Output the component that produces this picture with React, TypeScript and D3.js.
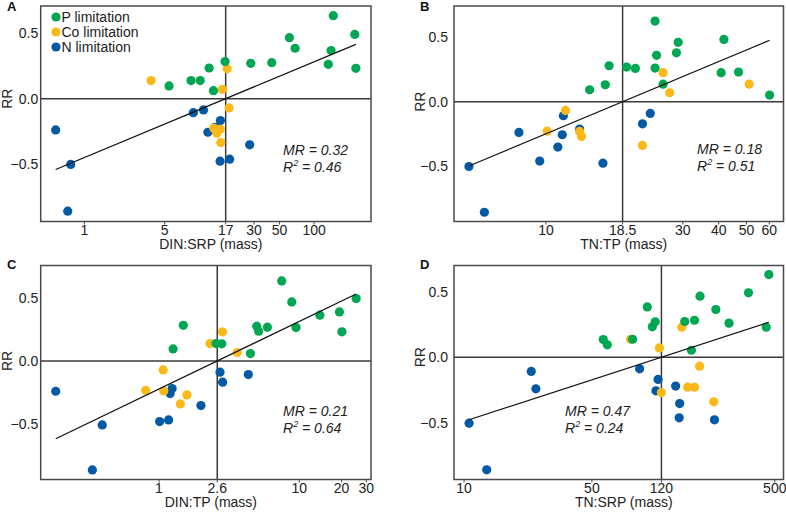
import React from "react";
import * as d3 from "d3";

// ---------- data ----------
const groupNames = ["P limitation", "Co limitation", "N limitation"];

// Panel A: DIN:SRP
const A_P = [[147, 0.634], [226, 0.491], [61, 0.466], [68.4, 0.385], [140.6, 0.367], [133, 0.262], [231, 0.232], [16.8, 0.283], [28.1, 0.27], [42.8, 0.275], [12.2, 0.234], [8.49, 0.138], [10.2, 0.138], [5.46, 0.097], [13.3, 0.061]];
const A_Co = [[3.81, 0.138], [17.5, 0.229], [15.9, 0.071], [18.2, -0.071], [13.4, -0.226], [14.2, -0.264], [15.2, -0.234], [15.4, -0.336]];
const A_N = [[0.563, -0.239], [0.761, -0.503], [0.717, -0.86], [8.89, -0.107], [10.9, -0.086], [15.3, -0.168], [11.9, -0.257], [13.7, -0.219], [27.5, -0.353], [15.2, -0.478], [18.4, -0.463]];

// Panel B: TN:TP
const B_P = [[24.0, 0.628], [41.7, 0.485], [28.9, 0.462], [28.5, 0.381], [24.3, 0.361], [24.0, 0.262], [19.1, 0.27], [20.5, 0.259], [16.6, 0.28], [16.1, 0.132], [14.2, 0.093], [40.8, 0.226], [46.9, 0.231], [25.6, 0.137], [60.2, 0.052]];
const B_Co = [[25.6, 0.226], [51.1, 0.137], [27.0, 0.07], [11.7, -0.068], [10.1, -0.229], [13.1, -0.231], [13.3, -0.27], [21.7, -0.34]];
const B_N = [[5.39, -0.504], [6.1, -0.86], [8.05, -0.239], [11.5, -0.109], [11.4, -0.257], [11.0, -0.353], [9.51, -0.462], [15.8, -0.478], [21.7, -0.172], [23.1, -0.091], [13.1, -0.213]];

// Panel C: DIN:TP
const C_P = [[7.49, 0.633], [8.83, 0.467], [25.4, 0.493], [19.3, 0.388], [14.0, 0.362], [9.47, 0.264], [20.1, 0.23], [4.97, 0.275], [5.13, 0.235], [5.92, 0.267], [1.49, 0.282], [1.26, 0.095], [2.55, 0.137], [2.8, 0.135], [4.48, 0.058]];
const C_Co = [[2.83, 0.23], [2.31, 0.137], [3.61, 0.066], [1.07, -0.071], [0.804, -0.232], [1.08, -0.237], [1.58, -0.269], [1.42, -0.34]];
const C_N = [[0.1836, -0.24], [0.394, -0.506], [0.335, -0.862], [2.72, -0.089], [2.84, -0.168], [4.33, -0.108], [1.24, -0.219], [1.2, -0.258], [1.99, -0.353], [1.01, -0.48], [1.17, -0.467]];

// Panel D: TN:SRP
const D_P = [[464, 0.631], [359, 0.491], [195, 0.466], [100.4, 0.384], [238, 0.364], [281, 0.26], [449, 0.229], [161, 0.272], [182, 0.282], [111, 0.27], [107, 0.232], [57.7, 0.135], [60.7, 0.094], [83.5, 0.137], [175, 0.053]];
const D_Co = [[155, 0.229], [81.5, 0.137], [117, 0.071], [194, -0.069], [120, -0.27], [167, -0.229], [182, -0.229], [232, -0.341]];
const D_N = [[10.65, -0.504], [13.3, -0.86], [23.3, -0.109], [24.7, -0.242], [91.2, -0.089], [115, -0.17], [112, -0.257], [143.5, -0.221], [151, -0.354], [150, -0.463], [234, -0.478]];

const panelLetters = ["A", "B", "C", "D"];
const xTitles = ["DIN:SRP (mass)", "TN:TP (mass)", "DIN:TP (mass)", "TN:SRP (mass)"];
const xTickValues = [[1, 5, 17, 30, 50, 100], [10, 18.5, 30, 40, 50, 60], [1, 2.6, 10, 20, 30], [10, 50, 120, 500]];
const yTickValues = [-0.5, 0.0, 0.5];
const thresholds = [17, 18.5, 2.6, 120];
const slopes = [0.366, 0.933, 0.535, 0.454];
const mrValues = ["0.32", "0.18", "0.21", "0.47"];
const r2Values = ["0.46", "0.51", "0.64", "0.24"];
const xDomains = [[0.417, 313], [4.78, 67.3], [0.1435, 32.4], [8.81, 558]];
const yDomains = [[-0.939, 0.708], [-0.932, 0.745], [-0.938, 0.755], [-0.934, 0.7]];

const panelData = [
  [A_P, A_Co, A_N],
  [B_P, B_Co, B_N],
  [C_P, C_Co, C_N],
  [D_P, D_Co, D_N],
];

// ---------- styles / layout ----------
const colors = ["#00a651", "#fbb917", "#0359a3"];
const FONT = "'Liberation Sans', Arial, Helvetica, sans-serif";
const frames = [
  { left: 40.7, right: 371, top: 6, bottom: 221.5, tickGap: 2.5, letterX: 7, letterY: 11, rrX: 11.5, statX: 283, statY: 155 },
  { left: 454, right: 783.5, top: 6, bottom: 221.5, tickGap: 6, letterX: 420, letterY: 11, rrX: 424.5, statX: 697, statY: 153.5 },
  { left: 40.7, right: 371, top: 265.5, bottom: 479.5, tickGap: 2.5, letterX: 7, letterY: 269, rrX: 11.5, statX: 283, statY: 415.5 },
  { left: 454, right: 783.5, top: 265.5, bottom: 479.5, tickGap: 6, letterX: 420, letterY: 269, rrX: 424.5, statX: 565, statY: 415.5 },
];
const drawOrder = [2, 1, 0];

function fmtTick(v: number) {
  return d3.format(".1f")(v);
}

function Panel({ i }: { i: number }) {
  const f = frames[i];
  const x = d3.scaleLog().domain(xDomains[i]).range([f.left, f.right]);
  const y = d3.scaleLinear().domain(yDomains[i]).range([f.bottom, f.top]);
  const all = panelData[i].flat();
  const xExt = d3.extent(all, (d) => d[0]) as [number, number];
  const lt = Math.log10(thresholds[i]);
  const fit = (v: number) => slopes[i] * (Math.log10(v) - lt);
  const line = d3
    .line<number>()
    .x((v) => x(v))
    .y((v) => y(fit(v)));
  const xMid = (f.left + f.right) / 2 + 5;
  return (
    <g>
      {/* crosshair */}
      <line x1={x(thresholds[i])} x2={x(thresholds[i])} y1={f.top} y2={f.bottom} stroke="#3a3a3a" strokeWidth={1.5} />
      <line x1={f.left} x2={f.right} y1={y(0)} y2={y(0)} stroke="#3a3a3a" strokeWidth={1.5} />
      {/* points */}
      {drawOrder.map((g) =>
        panelData[i][g].map((d, k) => (
          <circle key={`${g}-${k}`} cx={x(d[0])} cy={y(d[1])} r={4.6} fill={colors[g]} />
        ))
      )}
      {/* regression */}
      <path d={line(xExt) || ""} fill="none" stroke="#111" strokeWidth={1.2} />
      {/* frame */}
      <rect x={f.left} y={f.top} width={f.right - f.left} height={f.bottom - f.top} fill="none" stroke="#4a4a4a" strokeWidth={1.5} />
      {/* x ticks */}
      {xTickValues[i].map((t) => (
        <g key={t}>
          <line x1={x(t)} x2={x(t)} y1={f.bottom} y2={f.bottom + 3} stroke="#4a4a4a" strokeWidth={1} />
          <text x={x(t)} y={f.bottom + 13.5} textAnchor="middle" fontSize={14} fill="#222" fontFamily={FONT}>
            {String(t)}
          </text>
        </g>
      ))}
      {/* y ticks */}
      {yTickValues.map((t) => (
        <text key={t} x={f.left - f.tickGap} y={y(t) + 5} textAnchor="end" fontSize={14} fill="#222" fontFamily={FONT}>
          {fmtTick(t)}
        </text>
      ))}
      <text x={xMid} y={f.bottom + 27.5} textAnchor="middle" fontSize={14} fill="#222" fontFamily={FONT}>
        {xTitles[i]}
      </text>
      <text
        transform={`translate(${f.rrX},${y(0)}) rotate(-90)`}
        textAnchor="middle"
        fontSize={14}
        fill="#222"
        fontFamily={FONT}
      >
        RR
      </text>
      <text x={f.letterX} y={f.letterY} fontSize={13} fontWeight="bold" fill="#111" fontFamily={FONT}>
        {panelLetters[i]}
      </text>
      <text x={f.statX} y={f.statY} fontSize={14} fontStyle="italic" fill="#222" fontFamily={FONT}>
        {`MR = ${mrValues[i]}`}
      </text>
      <text x={f.statX} y={f.statY + 17} fontSize={14} fontStyle="italic" fill="#222" fontFamily={FONT}>
        R
        <tspan fontSize={9} dy={-6}>2</tspan>
        <tspan dy={6}>{` = ${r2Values[i]}`}</tspan>
      </text>
      {i === 0 &&
        groupNames.map((name, g) => (
          <g key={name}>
            <circle cx={56} cy={17 + g * 15} r={4.6} fill={colors[g]} />
            <text x={61.5} y={22 + g * 15} fontSize={14} fill="#222" fontFamily={FONT}>
              {name}
            </text>
          </g>
        ))}
    </g>
  );
}

export default function App() {
  return (
    <svg
      width={786}
      height={512}
      style={{ position: "absolute", left: 0, top: 0, background: "#fff" }}
    >
      <rect width={786} height={512} fill="#fff" />
      {[0, 1, 2, 3].map((i) => (
        <Panel key={i} i={i} />
      ))}
    </svg>
  );
}
